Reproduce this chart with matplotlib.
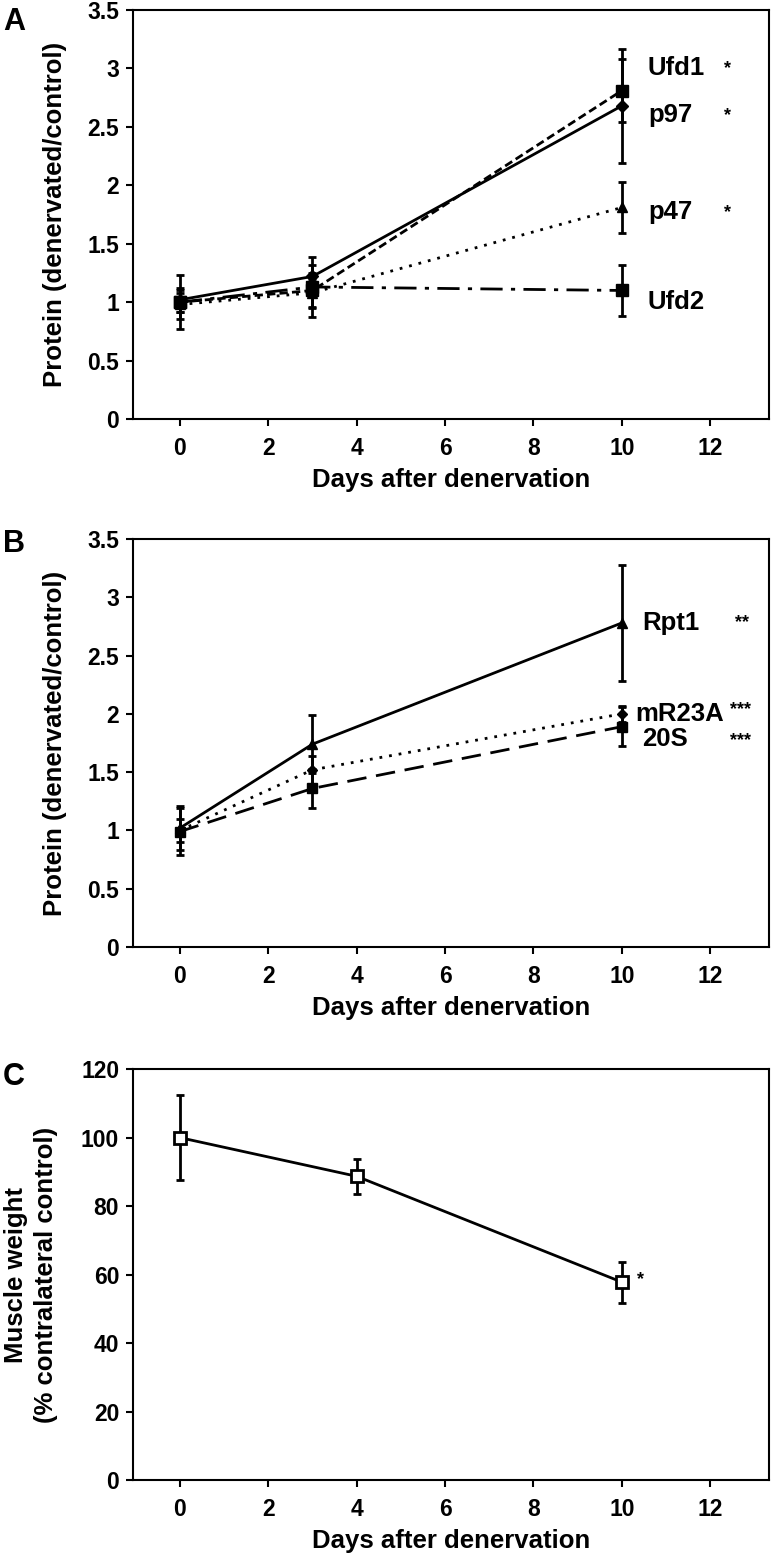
import matplotlib.pyplot as plt

plt.rcParams['font.family'] = ['Liberation Sans', 'DejaVu Sans']
plt.rcParams['font.weight'] = 'bold'

# Panel A
days_a = [0, 3, 10]
ufd1 = [1.0, 1.10, 2.81]
ufd1_err = [0.08, 0.15, 0.27]
p97 = [1.02, 1.22, 2.68]
p97_err = [0.10, 0.10, 0.49]
p47 = [0.98, 1.08, 1.81]
p47_err = [0.12, 0.12, 0.22]
ufd2 = [1.0, 1.13, 1.10]
ufd2_err = [0.23, 0.26, 0.22]

# Panel B
days_b = [0, 3, 10]
rpt1 = [1.02, 1.74, 2.78]
rpt1_err = [0.19, 0.25, 0.50]
mr23a = [1.0, 1.52, 2.0]
mr23a_err = [0.10, 0.12, 0.07]
s20 = [0.99, 1.36, 1.89]
s20_err = [0.20, 0.17, 0.17]

# Panel C
days_c = [0, 4, 10]
weight = [100, 88.7, 57.8]
weight_err = [12.5, 5.2, 6.0]

prot_ticks = [0, 0.5, 1, 1.5, 2, 2.5, 3, 3.5]
prot_labels = ['0', '0.5', '1', '1.5', '2', '2.5', '3', '3.5']

TICK = 16.5
LAB = 18.5
STAR = 13

fig = plt.figure(figsize=(7.73, 15.56), dpi=100)
ax1 = fig.add_axes([0.1721, 0.7307, 0.8228, 0.2629])
ax2 = fig.add_axes([0.1721, 0.3914, 0.8228, 0.2622])
ax3 = fig.add_axes([0.1721, 0.0488, 0.8228, 0.2641])

lw = 2.0
eb = dict(color='k', lw=lw, elinewidth=2, capsize=3, capthick=2)


def style(ax):
    ax.set_xlim(-1.06, 13.33)
    ax.set_xticks(range(0, 13, 2))
    ax.tick_params(direction='out', length=5, width=1.5, labelsize=TICK, pad=5)
    ax.tick_params(axis='x', pad=8)
    for s in ax.spines.values():
        s.set_linewidth(1.5)
    ax.set_xlabel("Days after denervation", fontsize=LAB, fontweight='bold', labelpad=6)
    for lab in ax.get_xticklabels() + ax.get_yticklabels():
        lab.set_fontweight('bold')


# Wykres A
ax1.errorbar(days_a, ufd1, yerr=ufd1_err, marker='s', ms=8, ls=(0, (3, 1.5)), **eb)
ax1.errorbar(days_a, p97, yerr=p97_err, marker='D', ms=6, ls='-', **eb)
ax1.errorbar(days_a, p47, yerr=p47_err, marker='^', ms=7, ls=(0, (1, 2.5)), **eb)
ax1.errorbar(days_a, ufd2, yerr=ufd2_err, marker='s', ms=8, ls=(0, (8, 3, 1.5, 3)), **eb)
ax1.set_ylim(0, 3.5)
ax1.set_yticks(prot_ticks)
ax1.set_yticklabels(prot_labels)
ax1.set_ylabel("Protein (denervated/control)", fontsize=LAB, fontweight='bold')
ax1.yaxis.set_label_coords(-0.104, 0.5)
for name, y in [('Ufd1', 3.0), ('p97', 2.6), ('p47', 1.77), ('Ufd2', 1.0)]:
    ax1.text(10.59, y, name, fontsize=LAB, fontweight='bold', va='center')
for y in [3.0, 2.6, 1.77]:
    ax1.text(12.3, y, '*', fontsize=STAR, fontweight='bold', va='center')
style(ax1)

# Wykres B
ax2.errorbar(days_b, rpt1, yerr=rpt1_err, marker='^', ms=7, ls='-', **eb)
ax2.errorbar(days_b, mr23a, yerr=mr23a_err, marker='D', ms=5, ls=(0, (1, 2.5)), **eb)
ax2.errorbar(days_b, s20, yerr=s20_err, marker='s', ms=7, ls=(0, (7, 3.5)), **eb)
ax2.set_ylim(0, 3.5)
ax2.set_yticks(prot_ticks)
ax2.set_yticklabels(prot_labels)
ax2.set_ylabel("Protein (denervated/control)", fontsize=LAB, fontweight='bold')
ax2.yaxis.set_label_coords(-0.104, 0.5)
ax2.text(10.45, 2.78, 'Rpt1', fontsize=LAB, fontweight='bold', va='center')
ax2.text(10.3, 2.0, 'mR23A', fontsize=LAB, fontweight='bold', va='center')
ax2.text(10.45, 1.78, '20S', fontsize=LAB, fontweight='bold', va='center')
ax2.text(12.55, 2.78, '**', fontsize=STAR, fontweight='bold', va='center')
ax2.text(12.45, 2.04, '***', fontsize=STAR, fontweight='bold', va='center')
ax2.text(12.45, 1.77, '***', fontsize=STAR, fontweight='bold', va='center')
style(ax2)

# Wykres C
ax3.errorbar(days_c, weight, yerr=weight_err, marker='s', ms=8, mfc='white', mec='k', mew=2, ls='-', **eb)
ax3.set_ylim(0, 120)
ax3.set_yticks(range(0, 121, 20))
ax3.set_ylabel("Muscle weight\n(% contralateral control)", fontsize=LAB, fontweight='bold',
               linespacing=1.3)
ax3.yaxis.set_label_coords(-0.118, 0.5)
ax3.text(10.35, 58.4, '*', fontsize=STAR, fontweight='bold', va='center')
style(ax3)

fig.text(0.004, 1 - 22 / 1556, 'A', fontsize=22, fontweight='bold', va='center')
fig.text(0.004, 1 - 544 / 1556, 'B', fontsize=22, fontweight='bold', va='center')
fig.text(0.004, 1 - 1077 / 1556, 'C', fontsize=22, fontweight='bold', va='center')

plt.savefig("out.png", dpi=100)
